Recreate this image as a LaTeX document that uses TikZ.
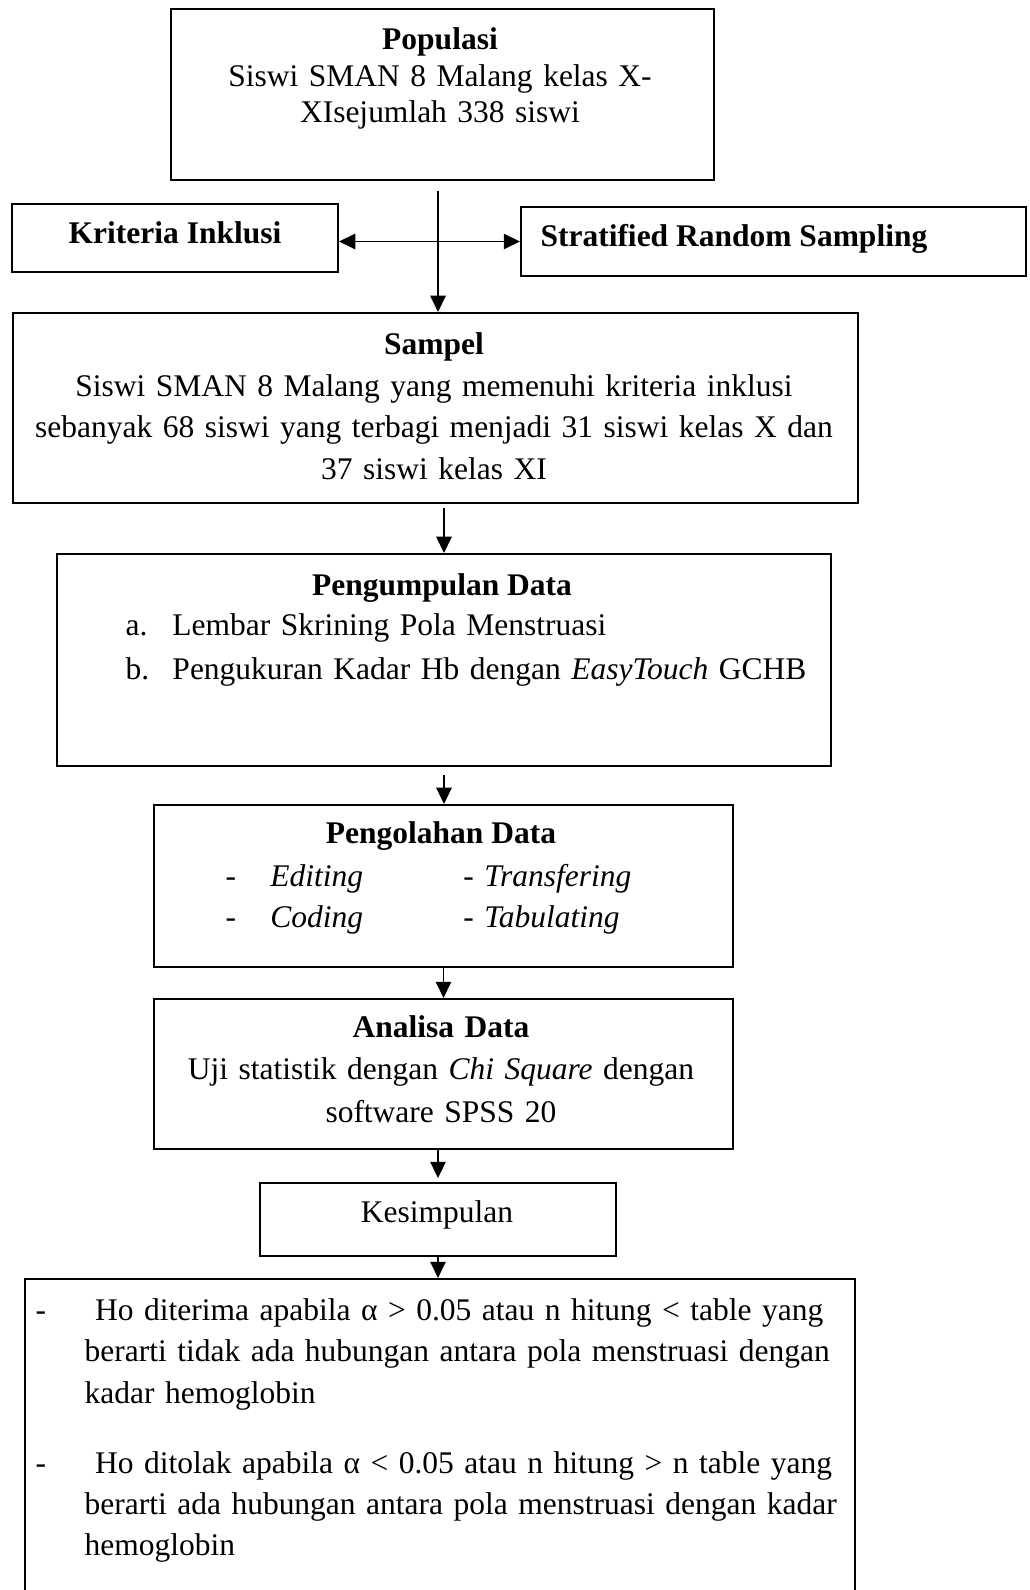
\documentclass[tikz,border=0pt]{standalone}
\usepackage{fontspec}
\setmainfont{Liberation Serif}
\usetikzlibrary{arrows.meta,fit,positioning}

\def\pxu{0.381pt}
\tikzset{
  box/.style = {draw, line width = 0.75pt, inner sep = 0pt},
  txt/.style = {anchor = base, inner sep = 0pt, align = center, font = \fontsize{12}{15.8}\selectfont},
  ttl/.style = {txt, font = \fontsize{12}{15.8}\selectfont\bfseries},
  arr/.style = {-{Triangle[length = 6.2pt, width = 5.8pt]}, line width = 0.75pt},
  darr/.style = {{Triangle[length = 6.2pt, width = 5.8pt]}-{Triangle[length = 6.2pt, width = 5.8pt]}, line width = 0.75pt},
}

\begin{document}
\begin{tikzpicture}[x = \pxu, y = -\pxu]
\useasboundingbox (0, 0) rectangle (1029, 1590);
\clip (0, 0) rectangle (1029, 1590);

% boxes
\node[box, fit = {(171, 9) (714, 180)}] (populasi) {};
\node[box, fit = {(12, 204) (338, 272)}] (kriteria) {};
\node[box, fit = {(521, 207) (1026, 276)}] (stratified) {};
\node[box, fit = {(13, 313) (858, 503)}] (sampel) {};
\node[box, fit = {(57, 554) (831, 766)}] (pengumpulan) {};
\node[box, fit = {(154, 805) (733, 967)}] (pengolahan) {};
\node[box, fit = {(154, 999) (733, 1149)}] (analisa) {};
\node[box, fit = {(260, 1183) (616, 1256)}] (kesimpulan) {};
\node[box, fit = {(25, 1279) (855, 1640)}] (hipotesis) {};

% texts
\node[txt, text width = 200pt, font = \fontsize{12}{13.9}\selectfont] (populasiText) at (440, 50)
  {\textbf{Populasi}\\Siswi SMAN 8 Malang kelas X-\\XIsejumlah 338 siswi};
\node[ttl] (kriteriaText) at (175, 244) {Kriteria Inklusi};
\node[ttl, anchor = base west] (stratifiedText) at (540, 247) {Stratified Random Sampling};
\node[txt, text width = 330pt] (sampelText) at (434, 355)
  {\textbf{Sampel}\\Siswi SMAN 8 Malang yang memenuhi kriteria inklusi\\
   sebanyak 68 siswi yang terbagi menjadi 31 siswi kelas X dan\\37 siswi kelas XI};

\node[ttl] (pengumpulanText) at (442, 595) {Pengumpulan Data};
\node[txt, anchor = base west, align = left, text width = 280pt, font = \fontsize{12}{16.6}\selectfont] (pengumpulanItems) at (125, 635.5)
  {\makebox[17.9pt][l]{a.}Lembar Skrining Pola Menstruasi\\
   \makebox[17.9pt][l]{b.}Pengukuran Kadar Hb dengan \textit{EasyTouch} GCHB};

\node[ttl] (pengolahanText) at (441, 843) {Pengolahan Data};
\node[txt, anchor = base west, align = left, text width = 170pt] (pengolahanItems) at (225, 886)
  {\makebox[17.1pt][l]{-}\makebox[73.5pt][l]{\textit{Editing}}- \textit{Transfering}\\
   \makebox[17.1pt][l]{-}\makebox[73.5pt][l]{\textit{Coding}}- \textit{Tabulating}};

\node[txt, text width = 230pt, font = \fontsize{12}{16.2}\selectfont] (analisaText) at (441, 1037)
  {\textbf{Analisa Data}\\Uji statistik dengan \textit{Chi Square} dengan\\software SPSS 20};

\node[txt] (kesimpulanText) at (437, 1222) {Kesimpulan};

\node[txt, anchor = base west, align = left, text width = 330pt, font = \fontsize{12}{15.7}\selectfont] (diterima) at (35, 1320.7)
  {\makebox[18.7pt][l]{-}\ Ho diterima apabila α > 0.05 atau n hitung < table yang\\
   \hspace*{18.7pt}berarti tidak ada hubungan antara pola menstruasi dengan\\
   \hspace*{18.7pt}kadar hemoglobin};
\node[txt, anchor = base west, align = left, text width = 330pt, font = \fontsize{12}{15.7}\selectfont] (ditolak) at (35, 1473)
  {\makebox[18.7pt][l]{-}\ Ho ditolak apabila α < 0.05 atau n hitung > n table yang\\
   \hspace*{18.7pt}berarti ada hubungan antara pola menstruasi dengan kadar\\
   \hspace*{18.7pt}hemoglobin};

% arrows
\draw[arr, shorten <= 3.8pt] (populasi.south -| kesimpulan.north) -- (sampel.north -| kesimpulan.north);
\draw[darr] (kriteria.east |- stratified.west) -- (stratified.west);
\draw[arr, shorten <= 1.5pt] (pengumpulan.north |- sampel.south) -- (pengumpulan.north);
\draw[arr, shorten <= 3pt] (pengumpulan.south) -- (pengumpulan.south |- pengolahan.north);
\draw[arr] (pengolahan.south) -- (analisa.north);
\draw[arr, shorten >= 1.5pt] (kesimpulan.north |- analisa.south) -- (kesimpulan.north);
\draw[arr] (kesimpulan.south) -- (kesimpulan.south |- hipotesis.north);

\end{tikzpicture}
\end{document}
